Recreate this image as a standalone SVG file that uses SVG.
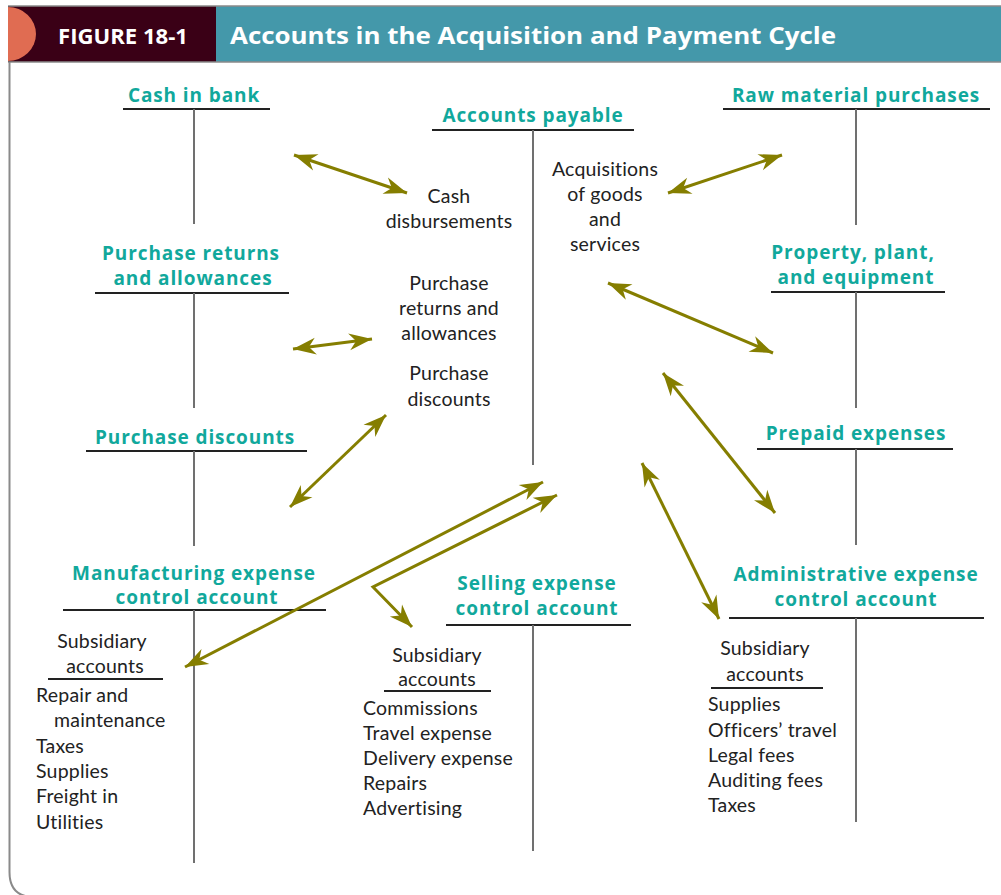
<svg xmlns="http://www.w3.org/2000/svg" width="1001" height="895" viewBox="0 0 1001 895">
<style>
text{font-variant-ligatures:none}
.hd{font-family:"Open Sans",Lato,sans-serif;font-weight:700;fill:#ffffff}
.tt{font-family:"Open Sans",Lato,sans-serif;font-weight:700;font-size:19px;letter-spacing:0.9px;fill:#11a89c;text-anchor:middle}
.tx{font-family:Lato,"Open Sans",sans-serif;font-size:19.5px;letter-spacing:0.2px;fill:#222222}
.c{text-anchor:middle}
.ul{stroke:#222222;stroke-width:2;fill:none}
.vl{stroke:#707070;stroke-width:2;fill:none}
.ar{stroke:#857e00;stroke-width:3;fill:none;marker-start:url(#ah);marker-end:url(#ah)}
</style>
<defs>
<marker id="ah" viewBox="-24 -10 26 20" refX="0" refY="0" markerWidth="26" markerHeight="20" markerUnits="userSpaceOnUse" orient="auto-start-reverse">
<path d="M0,0 L-23,-8.5 L-16,0 L-23,8.5 Z" fill="#857e00"/>
</marker>
</defs>
<rect width="1001" height="895" fill="#ffffff"/>
<g id="header">
<rect x="8" y="6" width="993" height="56" fill="#4498aa"/>
<rect x="8" y="6" width="208" height="56" fill="#3a0016"/>
<path d="M8,7 A28,27 0 0 1 8,61 Z" fill="#e06c52"/>
<line x1="8" y1="6" x2="1001" y2="6" stroke="#8a8a8a" stroke-width="1.5"/>
<line x1="8" y1="62" x2="1001" y2="62" stroke="#8a8a8a" stroke-width="1.5"/>
<text class="hd" x="58" y="44" font-size="22" textLength="130" lengthAdjust="spacingAndGlyphs">FIGURE 18-1</text>
<text class="hd" x="230" y="44" font-size="24" textLength="606" lengthAdjust="spacingAndGlyphs">Accounts in the Acquisition and Payment Cycle</text>
</g>
<path d="M9.5,62 V872 Q9.5,897 34,897" stroke="#8a8a8a" stroke-width="2" fill="none"/>

<g id="cash-in-bank">
<text class="tt" x="194" y="102">Cash in bank</text>
<line class="ul" x1="123" y1="109" x2="270" y2="109"/>
<line class="vl" x1="194" y1="109" x2="194" y2="224"/>
</g>
<g id="accounts-payable">
<text class="tt" x="533" y="122">Accounts payable</text>
<line class="ul" x1="432" y1="130" x2="634" y2="130"/>
<line class="vl" x1="533" y1="130" x2="533" y2="465"/>
</g>
<g id="raw-material">
<text class="tt" x="856" y="102">Raw material purchases</text>
<line class="ul" x1="723" y1="109" x2="990" y2="109"/>
<line class="vl" x1="856" y1="109" x2="856" y2="225"/>
</g>
<g id="purchase-returns">
<text class="tt" x="191" y="260">Purchase returns</text>
<text class="tt" x="193" y="285">and allowances</text>
<line class="ul" x1="95" y1="293" x2="289" y2="293"/>
<line class="vl" x1="194" y1="293" x2="194" y2="408"/>
</g>
<g id="ppe">
<text class="tt" x="853" y="259">Property, plant,</text>
<text class="tt" x="856" y="284">and equipment</text>
<line class="ul" x1="771" y1="292" x2="945" y2="292"/>
<line class="vl" x1="856" y1="292" x2="856" y2="408"/>
</g>
<g id="purchase-discounts">
<text class="tt" x="195" y="444">Purchase discounts</text>
<line class="ul" x1="86" y1="451" x2="307" y2="451"/>
<line class="vl" x1="194" y1="451" x2="194" y2="546"/>
</g>
<g id="prepaid">
<text class="tt" x="856" y="440">Prepaid expenses</text>
<line class="ul" x1="757" y1="449" x2="953" y2="449"/>
<line class="vl" x1="856" y1="449" x2="856" y2="545"/>
</g>
<g id="manufacturing">
<text class="tt" x="194" y="580">Manufacturing expense</text>
<text class="tt" x="197" y="604">control account</text>
<line class="ul" x1="63" y1="610" x2="326" y2="610"/>
<line class="vl" x1="194" y1="610" x2="194" y2="863"/>
<text class="tx c" x="102" y="648">Subsidiary</text>
<text class="tx c" x="105" y="673">accounts</text>
<line class="ul" x1="48" y1="679" x2="163" y2="679" stroke-width="1.5"/>
<text class="tx" x="36" y="702">Repair and</text>
<text class="tx" x="54" y="727">maintenance</text>
<text class="tx" x="36" y="753">Taxes</text>
<text class="tx" x="36" y="778">Supplies</text>
<text class="tx" x="36" y="803">Freight in</text>
<text class="tx" x="36" y="829">Utilities</text>
</g>
<g id="selling">
<text class="tt" x="537" y="590">Selling expense</text>
<text class="tt" x="537" y="615">control account</text>
<line class="ul" x1="446" y1="625" x2="631" y2="625"/>
<line class="vl" x1="533" y1="625" x2="533" y2="851"/>
<text class="tx c" x="437" y="662">Subsidiary</text>
<text class="tx c" x="437" y="686">accounts</text>
<line class="ul" x1="384" y1="691" x2="491" y2="691" stroke-width="1.5"/>
<text class="tx" x="363" y="715">Commissions</text>
<text class="tx" x="363" y="740">Travel expense</text>
<text class="tx" x="363" y="765">Delivery expense</text>
<text class="tx" x="363" y="790">Repairs</text>
<text class="tx" x="363" y="815">Advertising</text>
</g>
<g id="administrative">
<text class="tt" x="856" y="581">Administrative expense</text>
<text class="tt" x="856" y="606">control account</text>
<line class="ul" x1="729" y1="618" x2="984" y2="618"/>
<line class="vl" x1="856" y1="618" x2="856" y2="822"/>
<text class="tx c" x="765" y="655">Subsidiary</text>
<text class="tx c" x="765" y="681">accounts</text>
<line class="ul" x1="711" y1="688" x2="823" y2="688" stroke-width="1.5"/>
<text class="tx" x="708" y="711">Supplies</text>
<text class="tx" x="708" y="737">Officers’ travel</text>
<text class="tx" x="708" y="762">Legal fees</text>
<text class="tx" x="708" y="787">Auditing fees</text>
<text class="tx" x="708" y="812">Taxes</text>
</g>
<g id="ap-labels">
<text class="tx c" x="449" y="203">Cash</text>
<text class="tx c" x="449" y="228">disbursements</text>
<text class="tx c" x="605" y="176">Acquisitions</text>
<text class="tx c" x="605" y="201">of goods</text>
<text class="tx c" x="605" y="226">and</text>
<text class="tx c" x="605" y="251">services</text>
<text class="tx c" x="449" y="290">Purchase</text>
<text class="tx c" x="449" y="315">returns and</text>
<text class="tx c" x="449" y="340">allowances</text>
<text class="tx c" x="449" y="380">Purchase</text>
<text class="tx c" x="449" y="406">discounts</text>
</g>
<g id="connectors">
<line class="ar" x1="294" y1="155" x2="407" y2="193"/>
<line class="ar" x1="668" y1="193" x2="782" y2="155"/>
<line class="ar" x1="293" y1="349" x2="372" y2="339"/>
<line class="ar" x1="290" y1="507" x2="386" y2="415"/>
<line class="ar" x1="608" y1="283" x2="773" y2="353"/>
<line class="ar" x1="663" y1="373" x2="775" y2="513"/>
<line class="ar" x1="642" y1="463" x2="719" y2="619"/>
<line class="ar" x1="185" y1="667" x2="543" y2="482"/>
<polyline class="ar" points="557,495 373,587 412,627"/>
</g>
</svg>
